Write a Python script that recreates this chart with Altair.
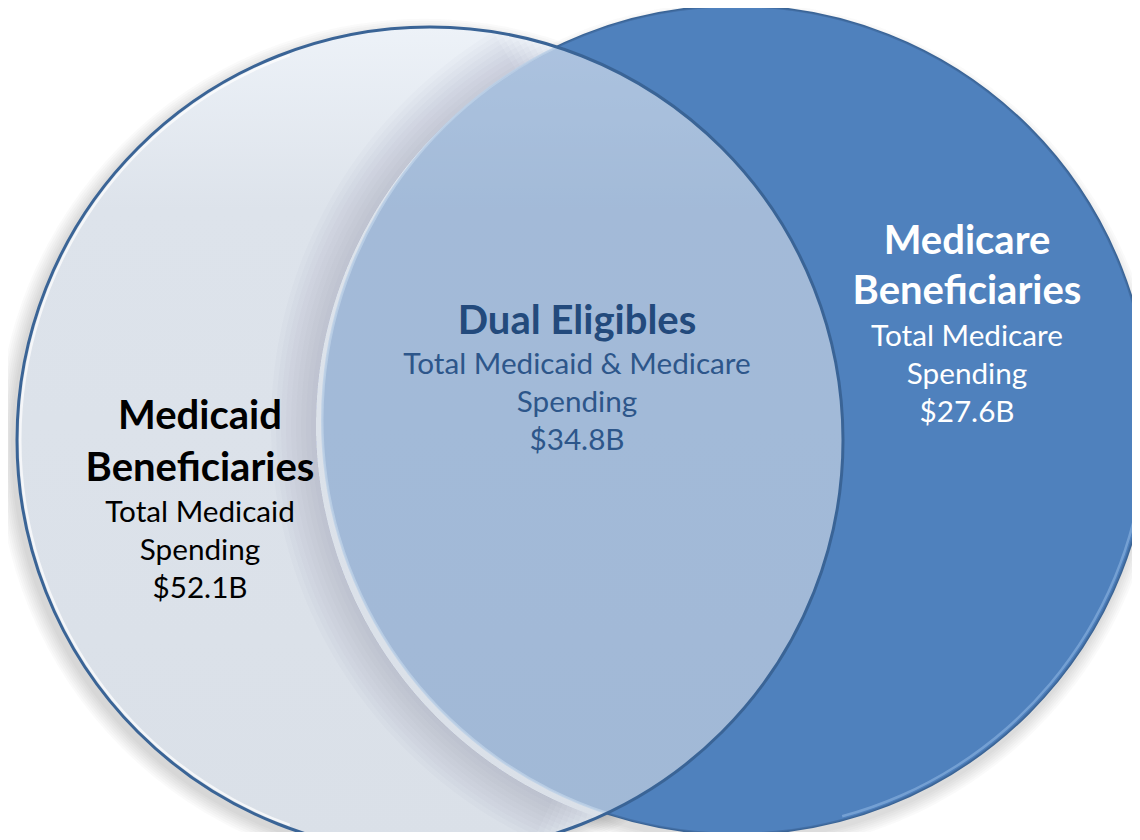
import math
import altair as alt
import pandas as pd

# ---------------- data ----------------
groups = ["Medicaid Beneficiaries", "Dual Eligibles", "Medicare Beneficiaries"]
title_lines = [["Medicaid", "Beneficiaries"], ["Dual Eligibles"], ["Medicare", "Beneficiaries"]]
spending_lines = [
    ["Total Medicaid", "Spending"],
    ["Total Medicaid & Medicare", "Spending"],
    ["Total Medicare", "Spending"],
]
spending_billions = [52.1, 34.8, 27.6]

# ---------------- layout / style ----------------
W, H = 1124, 824          # svg size (page adds 8px margin)
M = 8
circle_left = dict(cx=430, cy=440, r=413)
circle_right = dict(cx=736, cy=420, r=414)

label_x = [200, 577, 967]
title_first_y = [417, 322, 242]
body_first_y = [513, 364.5, 336.5]
title_line_h = [52, 52, 50]
body_line_h = 38
title_colors = ["#000000", "#234a7c", "#ffffff"]
body_colors = ["#000000", "#2d568a", "#ffffff"]
FONT = "Lato"
TITLE_SIZE = 40
BODY_SIZE = 29.7

BLUE = "#4f81bd"
BLUE_EDGE = "#3a6496"


def xenc():
    return alt.X("x:Q", scale=alt.Scale(domain=[M, M + W], zero=False, nice=False), axis=None)


def yenc():
    return alt.Y("y:Q", scale=alt.Scale(domain=[M, M + H], zero=False, nice=False, reverse=True), axis=None)


def circle(cx, cy, r, filled=True, **mark):
    # Vega's circle symbol has radius sqrt(size)/2
    df = pd.DataFrame({"x": [cx], "y": [cy], "s": [(2 * r) ** 2]})
    if filled:
        m = alt.Chart(df).mark_circle(**mark)
    else:
        m = alt.Chart(df).mark_point(shape="circle", filled=False, **mark)
    return m.encode(x=xenc(), y=yenc(), size=alt.Size("s:Q", scale=None, legend=None))


def arc(cx, cy, r0, r1, t0, t1, **mark):
    df = pd.DataFrame({"x": [cx], "y": [cy]})
    return alt.Chart(df).mark_arc(innerRadius=r0, outerRadius=r1, theta=t0, theta2=t1, **mark).encode(
        x=xenc(), y=yenc()
    )


def vega_angle(px, py, cx, cy):
    a = math.atan2(px - cx, -(py - cy))
    return a % (2 * math.pi)


def arc_inside(cx, cy, rho, other):
    """Angles (vega convention) on circle (cx,cy,rho) of its part lying inside `other`."""
    ox, oy, ro = other["cx"], other["cy"], other["r"]
    dx, dy = ox - cx, oy - cy
    d = math.hypot(dx, dy)
    a = (rho ** 2 - ro ** 2 + d * d) / (2 * d)
    h = math.sqrt(max(rho ** 2 - a * a, 0))
    px, py = cx + a * dx / d, cy + a * dy / d
    p1 = (px - h * dy / d, py + h * dx / d)
    p2 = (px + h * dy / d, py - h * dx / d)
    top_pt, bot_pt = sorted([p1, p2], key=lambda p: p[1])
    return vega_angle(bot_pt[0], bot_pt[1], cx, cy), vega_angle(top_pt[0], top_pt[1], cx, cy)


L, R = circle_left, circle_right
tR0, tR1 = arc_inside(R["cx"], R["cy"], R["r"], L)

layers = []

# soft drop shadows (only visible on the white background)
for k in range(0, 16, 2):
    layers.append(circle(L["cx"] - 6, L["cy"] + 6, L["r"] + k, fill="#444444", strokeWidth=0, opacity=0.028))
for k in range(0, 14, 2):
    layers.append(circle(R["cx"] - 1, R["cy"] + 8, R["r"] + k, fill="#444444", strokeWidth=0, opacity=0.028))

# right circle (opaque)
layers.append(circle(R["cx"], R["cy"], R["r"], fill=BLUE, stroke=BLUE_EDGE, strokeWidth=2.5, opacity=1))
# highlight lower-right edge of right circle
layers.append(arc(R["cx"], R["cy"], R["r"] - 5, R["r"] - 2.5, math.radians(95), math.radians(165),
                  fill="#a9cdf2", opacity=0.7))

# left circle fill (gradient)
grad = alt.Gradient(
    gradient="linear", x1=0, x2=0, y1=0, y2=1,
    stops=[alt.GradientStop(offset=0, color="#edf2f8"),
           alt.GradientStop(offset=0.22, color="#dde3eb"),
           alt.GradientStop(offset=1, color="#dae0e8")],
)
layers.append(circle(L["cx"], L["cy"], L["r"], fill=grad, strokeWidth=0, opacity=1))

# shadow cast by the overlap onto the left circle (kept inside the left circle)
scx, scy = R["cx"] - 6, R["cy"] + 5
for k in range(5, 50, 5):
    t0, t1 = arc_inside(scx, scy, R["r"] + k, L)
    layers.append(arc(scx, scy, R["r"], R["r"] + k, t0, t1, fill="#5a6270", opacity=0.024))

# right circle again, translucent -> overlap colour
layers.append(circle(R["cx"], R["cy"], R["r"], fill=BLUE, strokeWidth=0, opacity=0.41))
# light edge of the overlap
layers.append(arc(R["cx"], R["cy"], R["r"] - 1.5, R["r"] + 1, tR0, tR1, fill="#bcd0e6", opacity=0.85))

# white inner highlight on the left edge of left circle
layers.append(arc(L["cx"], L["cy"], L["r"] - 4.5, L["r"] - 2, math.radians(200), math.radians(340),
                  fill="#ffffff", opacity=0.7))
# left circle outline
layers.append(circle(L["cx"], L["cy"], L["r"], filled=False, stroke=BLUE_EDGE, strokeWidth=3, opacity=1))

# ---------------- text ----------------
for i in range(len(groups)):
    tdf = pd.DataFrame({"x": [label_x[i]], "y": [title_first_y[i]], "t": ["\n".join(title_lines[i])],
                        "group": [groups[i]]})
    layers.append(
        alt.Chart(tdf).mark_text(font=FONT, fontSize=TITLE_SIZE, fontWeight="bold", color=title_colors[i],
                                 align="center", baseline="middle", lineBreak="\n",
                                 lineHeight=title_line_h[i])
        .encode(x=xenc(), y=yenc(), text="t:N")
    )
    body = spending_lines[i] + [f"${spending_billions[i]:.1f}B"]
    bdf = pd.DataFrame({"x": [label_x[i]], "y": [body_first_y[i]], "t": ["\n".join(body)],
                        "group": [groups[i]]})
    layers.append(
        alt.Chart(bdf).mark_text(font=FONT, fontSize=BODY_SIZE, color=body_colors[i],
                                 align="center", baseline="middle", lineBreak="\n", lineHeight=body_line_h)
        .encode(x=xenc(), y=yenc(), text="t:N")
    )

chart = (
    alt.layer(*layers)
    .properties(width=W, height=H, padding=0, autosize=alt.AutoSizeParams(type="none"))
    .configure_view(stroke=None)
)

chart.save("out.html", embed_options={"renderer": "svg", "actions": False})
